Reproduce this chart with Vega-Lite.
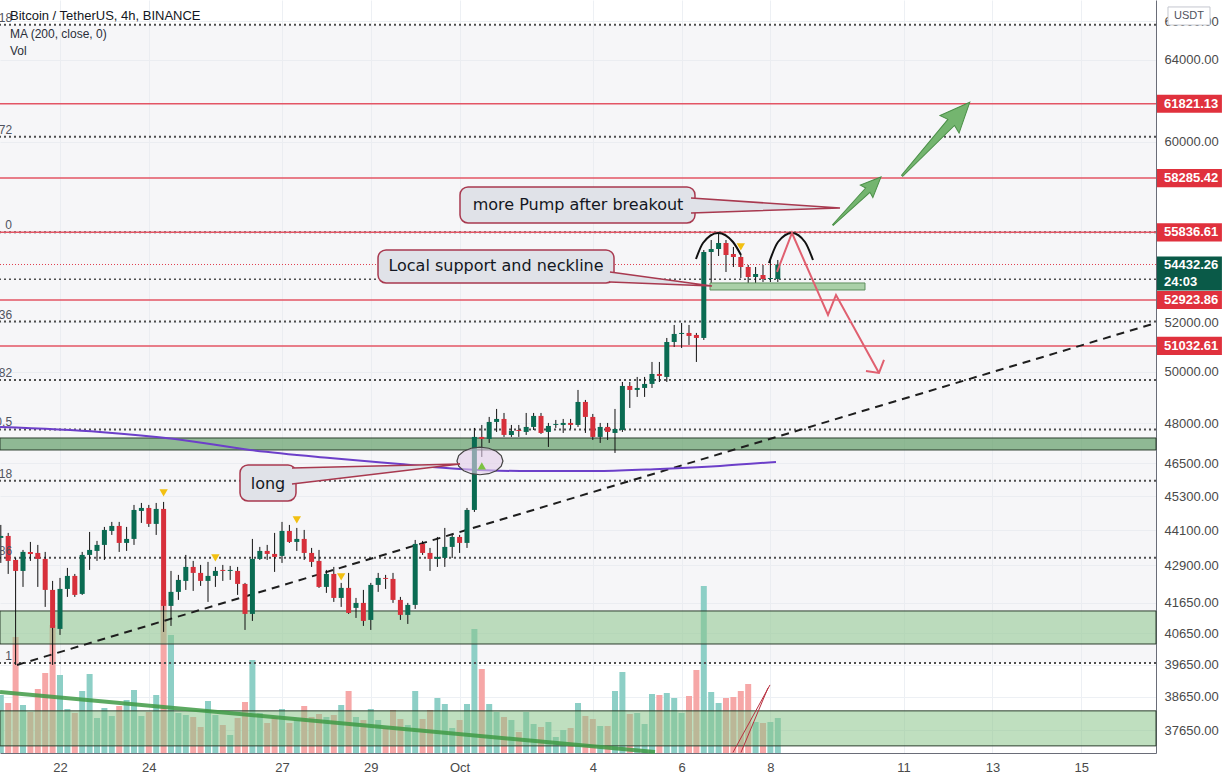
{
"$schema":"https://vega.github.io/schema/vega-lite/v6.json",
"width":1156,"height":753,
"autosize":{"type":"none"},
"padding":{"left":0,"top":0,"right":69,"bottom":28},
"background":"white",
"config":{"view":{"stroke":null},"font":"Liberation Sans"},
"datasets":{
"candles":[
{"t":"2021-09-20T16:00Z","o":43837,"h":44290,"l":42978,"c":43906,"v":2320},
{"t":"2021-09-20T20:00Z","o":43906,"h":44011,"l":42605,"c":43046,"v":2000},
{"t":"2021-09-21T00:00Z","o":43080,"h":43148,"l":39644,"c":42706,"v":4640},
{"t":"2021-09-21T04:00Z","o":42706,"h":43422,"l":42169,"c":43354,"v":1920},
{"t":"2021-09-21T08:00Z","o":43354,"h":43698,"l":43046,"c":43285,"v":1640},
{"t":"2021-09-21T12:00Z","o":43319,"h":43595,"l":42169,"c":43114,"v":2560},
{"t":"2021-09-21T16:00Z","o":43114,"h":43354,"l":41507,"c":42069,"v":3200},
{"t":"2021-09-21T20:00Z","o":42069,"h":42370,"l":39644,"c":40822,"v":5120},
{"t":"2021-09-22T00:00Z","o":40790,"h":42470,"l":40597,"c":42102,"v":3120},
{"t":"2021-09-22T04:00Z","o":42102,"h":42808,"l":41837,"c":42538,"v":1760},
{"t":"2021-09-22T08:00Z","o":42538,"h":42605,"l":41837,"c":41903,"v":1600},
{"t":"2021-09-22T12:00Z","o":41936,"h":43354,"l":41903,"c":43251,"v":2480},
{"t":"2021-09-22T16:00Z","o":43251,"h":44045,"l":42740,"c":43422,"v":3160},
{"t":"2021-09-22T20:00Z","o":43388,"h":43733,"l":43046,"c":43595,"v":1400},
{"t":"2021-09-23T00:00Z","o":43595,"h":44220,"l":43080,"c":44115,"v":1800},
{"t":"2021-09-23T04:00Z","o":44080,"h":44396,"l":43941,"c":44255,"v":1480},
{"t":"2021-09-23T08:00Z","o":44255,"h":44396,"l":43354,"c":43664,"v":1880},
{"t":"2021-09-23T12:00Z","o":43664,"h":44220,"l":43388,"c":43802,"v":2120},
{"t":"2021-09-23T16:00Z","o":43802,"h":44997,"l":43595,"c":44819,"v":2520},
{"t":"2021-09-23T20:00Z","o":44784,"h":45068,"l":44361,"c":44890,"v":1480},
{"t":"2021-09-24T00:00Z","o":44890,"h":44997,"l":44220,"c":44326,"v":1640},
{"t":"2021-09-24T04:00Z","o":44326,"h":45068,"l":43941,"c":44855,"v":2320},
{"t":"2021-09-24T08:00Z","o":44855,"h":45104,"l":40693,"c":41540,"v":6120},
{"t":"2021-09-24T12:00Z","o":41540,"h":42706,"l":40887,"c":42003,"v":4720},
{"t":"2021-09-24T16:00Z","o":42003,"h":42572,"l":41737,"c":42403,"v":1600},
{"t":"2021-09-24T20:00Z","o":42370,"h":43251,"l":42069,"c":42842,"v":1520},
{"t":"2021-09-25T00:00Z","o":42842,"h":43046,"l":42036,"c":42639,"v":1440},
{"t":"2021-09-25T04:00Z","o":42639,"h":42910,"l":42203,"c":42370,"v":1040},
{"t":"2021-09-25T08:00Z","o":42370,"h":43012,"l":41671,"c":42538,"v":2080},
{"t":"2021-09-25T12:00Z","o":42538,"h":42842,"l":42169,"c":42706,"v":1520},
{"t":"2021-09-25T16:00Z","o":42740,"h":42910,"l":42370,"c":42706,"v":1120},
{"t":"2021-09-25T20:00Z","o":42706,"h":42876,"l":42403,"c":42740,"v":720},
{"t":"2021-09-26T00:00Z","o":42706,"h":42842,"l":41903,"c":42269,"v":1400},
{"t":"2021-09-26T04:00Z","o":42269,"h":42303,"l":40757,"c":41277,"v":2040},
{"t":"2021-09-26T08:00Z","o":41277,"h":43802,"l":41049,"c":43114,"v":3720},
{"t":"2021-09-26T12:00Z","o":43114,"h":43526,"l":43080,"c":43388,"v":1600},
{"t":"2021-09-26T16:00Z","o":43388,"h":43595,"l":43080,"c":43285,"v":1200},
{"t":"2021-09-26T20:00Z","o":43285,"h":44011,"l":42673,"c":43183,"v":1440},
{"t":"2021-09-27T00:00Z","o":43217,"h":44396,"l":42978,"c":44080,"v":1760},
{"t":"2021-09-27T04:00Z","o":44080,"h":44290,"l":43664,"c":43698,"v":1200},
{"t":"2021-09-27T08:00Z","o":43698,"h":44185,"l":43388,"c":43802,"v":1320},
{"t":"2021-09-27T12:00Z","o":43802,"h":44115,"l":43080,"c":43319,"v":1880},
{"t":"2021-09-27T16:00Z","o":43319,"h":43491,"l":42842,"c":43012,"v":1440},
{"t":"2021-09-27T20:00Z","o":43046,"h":43422,"l":42136,"c":42169,"v":1560},
{"t":"2021-09-28T00:00Z","o":42169,"h":42740,"l":41970,"c":42605,"v":1440},
{"t":"2021-09-28T04:00Z","o":42605,"h":42842,"l":41671,"c":41803,"v":1520},
{"t":"2021-09-28T08:00Z","o":41803,"h":42303,"l":41507,"c":42136,"v":1920},
{"t":"2021-09-28T12:00Z","o":42136,"h":42639,"l":41277,"c":41310,"v":2480},
{"t":"2021-09-28T16:00Z","o":41474,"h":41803,"l":41146,"c":41638,"v":1440},
{"t":"2021-09-28T20:00Z","o":41638,"h":42069,"l":40887,"c":41049,"v":1320},
{"t":"2021-09-29T00:00Z","o":41081,"h":42303,"l":40757,"c":42236,"v":1760},
{"t":"2021-09-29T04:00Z","o":42236,"h":42639,"l":42003,"c":42470,"v":1320},
{"t":"2021-09-29T08:00Z","o":42470,"h":42572,"l":42102,"c":42437,"v":1000},
{"t":"2021-09-29T12:00Z","o":42437,"h":42639,"l":41638,"c":41737,"v":1720},
{"t":"2021-09-29T16:00Z","o":41737,"h":41837,"l":41081,"c":41245,"v":1360},
{"t":"2021-09-29T20:00Z","o":41245,"h":41638,"l":40951,"c":41573,"v":1120},
{"t":"2021-09-30T00:00Z","o":41573,"h":43767,"l":41441,"c":43629,"v":2480},
{"t":"2021-09-30T04:00Z","o":43629,"h":43733,"l":43251,"c":43319,"v":1360},
{"t":"2021-09-30T08:00Z","o":43319,"h":43491,"l":42706,"c":43114,"v":1720},
{"t":"2021-09-30T12:00Z","o":43114,"h":43871,"l":42842,"c":43183,"v":2200},
{"t":"2021-09-30T16:00Z","o":43148,"h":44185,"l":42842,"c":43526,"v":1960},
{"t":"2021-09-30T20:00Z","o":43526,"h":43941,"l":43148,"c":43871,"v":1000},
{"t":"2021-10-01T00:00Z","o":43871,"h":43941,"l":43319,"c":43664,"v":1320},
{"t":"2021-10-01T04:00Z","o":43664,"h":44890,"l":43491,"c":44819,"v":1960},
{"t":"2021-10-01T08:00Z","o":44819,"h":47825,"l":44748,"c":47486,"v":4960},
{"t":"2021-10-01T12:00Z","o":47486,"h":47939,"l":46739,"c":47410,"v":3360},
{"t":"2021-10-01T16:00Z","o":47410,"h":48244,"l":47261,"c":48053,"v":1960},
{"t":"2021-10-01T20:00Z","o":48053,"h":48550,"l":47674,"c":48167,"v":1640},
{"t":"2021-10-02T00:00Z","o":48167,"h":48396,"l":47486,"c":47561,"v":1440},
{"t":"2021-10-02T04:00Z","o":47561,"h":47939,"l":47486,"c":47711,"v":1320},
{"t":"2021-10-02T08:00Z","o":47749,"h":47939,"l":47486,"c":47711,"v":840},
{"t":"2021-10-02T12:00Z","o":47674,"h":48396,"l":47561,"c":47863,"v":1640},
{"t":"2021-10-02T16:00Z","o":47863,"h":48396,"l":47749,"c":48282,"v":1160},
{"t":"2021-10-02T20:00Z","o":48282,"h":48396,"l":47599,"c":47636,"v":1040},
{"t":"2021-10-03T00:00Z","o":47674,"h":48015,"l":47111,"c":47901,"v":1240},
{"t":"2021-10-03T04:00Z","o":47939,"h":48129,"l":47825,"c":47977,"v":640},
{"t":"2021-10-03T08:00Z","o":47939,"h":48167,"l":47636,"c":48015,"v":920},
{"t":"2021-10-03T12:00Z","o":48015,"h":48167,"l":47787,"c":47939,"v":1000},
{"t":"2021-10-03T16:00Z","o":47939,"h":49286,"l":47863,"c":48820,"v":2000},
{"t":"2021-10-03T20:00Z","o":48820,"h":48897,"l":47636,"c":48244,"v":1480},
{"t":"2021-10-04T00:00Z","o":48244,"h":48358,"l":47373,"c":47486,"v":1360},
{"t":"2021-10-04T04:00Z","o":47486,"h":48015,"l":47261,"c":47863,"v":1080},
{"t":"2021-10-04T08:00Z","o":47863,"h":48015,"l":47373,"c":47674,"v":1080},
{"t":"2021-10-04T12:00Z","o":47636,"h":48550,"l":46888,"c":47787,"v":2480},
{"t":"2021-10-04T16:00Z","o":47749,"h":49599,"l":47674,"c":49442,"v":3240},
{"t":"2021-10-04T20:00Z","o":49442,"h":49599,"l":48588,"c":49286,"v":1560},
{"t":"2021-10-05T00:00Z","o":49286,"h":49796,"l":49014,"c":49364,"v":1600},
{"t":"2021-10-05T04:00Z","o":49364,"h":49796,"l":49014,"c":49521,"v":1160},
{"t":"2021-10-05T08:00Z","o":49521,"h":50390,"l":49364,"c":49914,"v":2360},
{"t":"2021-10-05T12:00Z","o":49914,"h":50390,"l":49599,"c":49835,"v":2320},
{"t":"2021-10-05T16:00Z","o":49796,"h":51357,"l":49599,"c":51194,"v":2400},
{"t":"2021-10-05T20:00Z","o":51194,"h":51888,"l":50992,"c":51520,"v":2200},
{"t":"2021-10-06T00:00Z","o":51520,"h":51970,"l":50952,"c":51561,"v":1600},
{"t":"2021-10-06T04:00Z","o":51561,"h":51888,"l":51073,"c":51438,"v":2280},
{"t":"2021-10-06T08:00Z","o":51479,"h":51561,"l":50390,"c":51357,"v":3320},
{"t":"2021-10-06T12:00Z","o":51357,"h":55061,"l":51275,"c":54974,"v":6680},
{"t":"2021-10-06T16:00Z","o":54974,"h":55499,"l":53642,"c":55105,"v":2440},
{"t":"2021-10-06T20:00Z","o":55105,"h":55836,"l":54800,"c":55368,"v":2000},
{"t":"2021-10-07T00:00Z","o":55368,"h":55499,"l":54111,"c":54844,"v":2200},
{"t":"2021-10-07T04:00Z","o":54887,"h":55192,"l":54325,"c":54757,"v":2240},
{"t":"2021-10-07T08:00Z","o":54757,"h":54844,"l":53854,"c":54325,"v":2480},
{"t":"2021-10-07T12:00Z","o":54325,"h":54412,"l":53345,"c":53897,"v":2760},
{"t":"2021-10-07T16:00Z","o":53897,"h":54325,"l":53345,"c":54025,"v":1240},
{"t":"2021-10-07T20:00Z","o":53982,"h":54412,"l":53684,"c":53812,"v":1200},
{"t":"2021-10-08T00:00Z","o":53812,"h":54627,"l":53684,"c":53854,"v":1240},
{"t":"2021-10-08T04:00Z","o":53812,"h":54627,"l":53684,"c":54432.26,"v":1400}
],
"fib":[
{"lbl":"1.618","p":65805},{"lbl":"1.272","p":60224},{"lbl":"0","p":55836},{"lbl":"0.236","p":52029},{"lbl":"0.382","p":49674},{"lbl":"0.5","p":47770},{"lbl":"0.618","p":45867},{"lbl":"0.786","p":43157},{"lbl":"1","p":39705}
],
"redlv":[
{"p":61821.13,"txt":"61821.13"},{"p":58285.42,"txt":"58285.42"},{"p":55836.61,"txt":"55836.61"},{"p":52923.86,"txt":"52923.86"},{"p":51032.61,"txt":"51032.61"}
],
"callouts":[
{"t1":"2021-09-26T01:18Z","t2":"2021-09-27T07:34Z","p1":46444,"p2":45139,"txt":"long","tt":"2021-09-26T16:26Z","tp":45751},
{"t1":"2021-09-29T03:54Z","t2":"2021-10-04T11:28Z","p1":55061,"p2":53642,"txt":"Local support and neckline","tt":"2021-10-01T19:40Z","tp":54368},
{"t1":"2021-10-01T00:13Z","t2":"2021-10-06T07:14Z","p1":57877,"p2":56251,"txt":"more Pump after breakout","tt":"2021-10-03T16:00Z","tp":57059}
],
"wedges":[
{"id":"a","k":0,"t":"2021-09-27T05:24Z","p":46334},{"id":"a","k":1,"t":"2021-10-01T00:13Z","p":46481},{"id":"a","k":2,"t":"2021-09-27T05:24Z","p":45751},
{"id":"b","k":0,"t":"2021-10-04T09:18Z","p":54111},{"id":"b","k":1,"t":"2021-10-06T16:26Z","p":53514},{"id":"b","k":2,"t":"2021-10-04T09:18Z","p":53684},
{"id":"c","k":0,"t":"2021-10-06T05:05Z","p":57376},{"id":"c","k":1,"t":"2021-10-09T13:38Z","p":56924},{"id":"c","k":2,"t":"2021-10-06T05:05Z","p":56698}
],
"ma":[
{"t":"2021-09-20T15:35Z","p":47862},{"t":"2021-09-22T21:37Z","p":47674},{"t":"2021-09-24T14:10Z","p":47411},{"t":"2021-09-26T06:42Z","p":46999},{"t":"2021-09-28T01:57Z","p":46702},{"t":"2021-09-29T15:47Z","p":46481},{"t":"2021-10-01T00:13Z","p":46298},{"t":"2021-10-02T08:38Z","p":46224},{"t":"2021-10-04T03:53Z","p":46224},{"t":"2021-10-05T12:19Z","p":46298},{"t":"2021-10-06T20:45Z","p":46408},{"t":"2021-10-08T03:01Z","p":46555}
],
"arcs":[
{"id":"a","t":"2021-10-06T07:47Z","p":54670},{"id":"a","t":"2021-10-06T11:34Z","p":55368},{"id":"a","t":"2021-10-06T19:40Z","p":55808},{"id":"a","t":"2021-10-07T03:47Z","p":55411},{"id":"a","t":"2021-10-07T08:06Z","p":54844},
{"id":"b","t":"2021-10-07T23:14Z","p":54497},{"id":"b","t":"2021-10-08T04:06Z","p":55411},{"id":"b","t":"2021-10-08T11:40Z","p":55808},{"id":"b","t":"2021-10-08T18:42Z","p":55411},{"id":"b","t":"2021-10-08T23:01Z","p":54627}
],
"zigzag":[
{"id":"path","t":"2021-10-08T03:34Z","p":54111},{"id":"path","t":"2021-10-08T11:40Z","p":55808},{"id":"path","t":"2021-10-09T07:08Z","p":52300},{"id":"path","t":"2021-10-09T11:28Z","p":53135},{"id":"path","t":"2021-10-10T10:42Z","p":49954},
{"id":"head","t":"2021-10-10T03:40Z","p":50033},{"id":"head","t":"2021-10-10T10:42Z","p":49954},{"id":"head","t":"2021-10-10T13:24Z","p":50470}
],
"marks":[
{"dir":"down","t":"2021-09-24T08:00Z","p":45426},{"dir":"down","t":"2021-09-25T12:00Z","p":43148},{"dir":"down","t":"2021-09-27T08:00Z","p":44466},{"dir":"down","t":"2021-09-28T08:00Z","p":42504},{"dir":"down","t":"2021-10-07T08:00Z","p":55192},{"dir":"up","t":"2021-10-01T12:00Z","p":46408}
],
"redthin":[
{"id":"a","t":"2021-10-07T03:47Z","p":36990},{"id":"a","t":"2021-10-07T23:47Z","p":39021},
{"id":"b","t":"2021-10-07T08:06Z","p":36990},{"id":"b","t":"2021-10-07T22:42Z","p":38929}
],
"header":[
{"txt":"Bitcoin / TetherUS, 4h, BINANCE","p":66269}
],
"legend":[
{"txt":"MA (200, close, 0)","p":65331},{"txt":"Vol","p":64458}
],
"last":[
{"p":54432.26,"txt":"54432.26","cd":"24:03"}
],
"unit":[
{"p":66269,"txt":"USDT"}
],
"hlines":[
{"p":53800}
]
},
"layer":[
{
"data":{"values":[{"lo":39705,"hi":65805}]},
"mark":{"type":"rect","fill":"#e8e8ee","opacity":0.4},
"encoding":{
"y":{"field":"hi","type":"quantitative","scale":{"type":"log","domain":[36973,67113],"nice":false,"padding":0},"axis":null},
"y2":{"field":"lo"}
}
},
{
"data":{"name":"candles"},
"mark":{"type":"bar","width":6},
"encoding":{
"x":{"field":"t","type":"temporal",
"scale":{"type":"utc","padding":0,"domain":[{"year":2021,"month":9,"date":20,"hours":15,"minutes":34,"utc":true},{"year":2021,"month":10,"date":16,"hours":16,"minutes":26,"utc":true}]},
"axis":{"title":null,"orient":"bottom","values":[{"year":2021,"month":9,"date":22,"utc":true},{"year":2021,"month":9,"date":24,"utc":true},{"year":2021,"month":9,"date":27,"utc":true},{"year":2021,"month":9,"date":29,"utc":true},{"year":2021,"month":10,"date":1,"utc":true},{"year":2021,"month":10,"date":4,"utc":true},{"year":2021,"month":10,"date":6,"utc":true},{"year":2021,"month":10,"date":8,"utc":true},{"year":2021,"month":10,"date":11,"utc":true},{"year":2021,"month":10,"date":13,"utc":true},{"year":2021,"month":10,"date":15,"utc":true}],
"labelExpr":"utcdate(datum.value) == 1 ? 'Oct' : '' + utcdate(datum.value)",
"grid":true,"gridColor":"#edf0f4","ticks":false,"domainColor":"#6a6d78","labelColor":"#4a4a4a","labelFont":"Liberation Sans","labelFontSize":13,"labelPadding":8,"labelOverlap":false,"labelFlush":false}},
"y":{"field":"v","type":"quantitative","scale":{"domain":[0,30120],"nice":false,"padding":0},"axis":null},
"color":{"condition":{"test":"datum.c >= datum.o","value":"#8dcfc6"},"value":"#f6a7a7"}
}
},
{
"layer":[
{
"data":{"values":[{"lo":46998,"hi":47446}]},
"mark":{"type":"rect","fill":"#4b9152","fillOpacity":0.6,"stroke":"#2c3e2e","strokeWidth":1},
"encoding":{
"y":{"field":"hi","type":"quantitative","scale":{"type":"log","domain":[36973,67113],"nice":false,"padding":0},
"axis":{"title":null,"orient":"right","values":[37650,38650,39650,40650,41650,42900,44100,45300,46500,48000,50000,52000,60000,64000,66000],"format":".2f","grid":true,"gridColor":"#edf0f4","ticks":false,"domainColor":"#6a6d78","labelColor":"#4a4a4a","labelFont":"Liberation Sans","labelFontSize":13,"labelPadding":8,"labelOverlap":false,"labelBound":false,"labelFlush":false}},
"y2":{"field":"lo"}
}
},
{
"data":{"values":[{"lo":40306,"hi":41374},{"lo":37182,"hi":38227}]},
"mark":{"type":"rect","fill":"#8bc48b","fillOpacity":0.55,"stroke":"#2c3e2e","strokeWidth":1},
"encoding":{"y":{"field":"hi","type":"quantitative"},"y2":{"field":"lo"}}
},
{
"data":{"name":"fib"},
"mark":{"type":"rule","stroke":"#4d4d4d","strokeWidth":2,"strokeDash":[2,3]},
"encoding":{"y":{"field":"p","type":"quantitative"}}
},
{
"data":{"name":"hlines"},
"mark":{"type":"rule","stroke":"#4d4d4d","strokeWidth":1.5,"strokeDash":[2,3]},
"encoding":{"y":{"field":"p","type":"quantitative"}}
},
{
"data":{"name":"redlv"},
"mark":{"type":"rule","stroke":"#e35565","strokeWidth":1.5},
"encoding":{"y":{"field":"p","type":"quantitative"}}
},
{
"data":{"name":"last"},
"mark":{"type":"rule","stroke":"#e04050","strokeWidth":1,"strokeDash":[1,2]},
"encoding":{"y":{"field":"p","type":"quantitative"}}
},
{
"data":{"values":[{"t":"2021-09-21T00:45Z","p":39642},{"t":"2021-10-16T16:26Z","p":51970}]},
"mark":{"type":"line","stroke":"#1e1e1e","strokeWidth":2,"strokeDash":[8,6]},
"encoding":{"x":{"field":"t","type":"temporal"},"y":{"field":"p","type":"quantitative"}}
},
{
"data":{"name":"ma"},
"mark":{"type":"line","stroke":"#6c3fc9","strokeWidth":2,"interpolate":"monotone"},
"encoding":{"x":{"field":"t","type":"temporal"},"y":{"field":"p","type":"quantitative"}}
},
{
"data":{"name":"candles"},
"mark":{"type":"rule","stroke":"#111111","strokeWidth":1},
"encoding":{"x":{"field":"t","type":"temporal"},"y":{"field":"l","type":"quantitative"},"y2":{"field":"h"}}
},
{
"data":{"name":"candles"},
"mark":{"type":"bar","width":5},
"encoding":{"x":{"field":"t","type":"temporal"},"y":{"field":"o","type":"quantitative"},"y2":{"field":"c"},
"color":{"condition":{"test":"datum.c >= datum.o","value":"#0a6b52"},"value":"#d7303b"}}
},
{
"data":{"values":[{"t":"2021-10-01T11:00Z","p":46591}]},
"mark":{"type":"point","shape":"M1,0L0.924,0.23L0.707,0.424L0.383,0.554L0,0.6L-0.383,0.554L-0.707,0.424L-0.924,0.23L-1,0L-0.924,-0.23L-0.707,-0.424L-0.383,-0.554L0,-0.6L0.383,-0.554L0.707,-0.424L0.924,-0.23Z","size":2116,"filled":true,"fill":"#e3cdea","fillOpacity":0.6,"stroke":"#444444","strokeWidth":1.2,"opacity":1},
"encoding":{"x":{"field":"t","type":"temporal"},"y":{"field":"p","type":"quantitative"}}
},
{
"data":{"name":"marks"},
"transform":[{"filter":"datum.dir == 'down'"}],
"mark":{"type":"point","shape":"triangle-down","filled":true,"fill":"#f2c012","size":70,"opacity":1},
"encoding":{"x":{"field":"t","type":"temporal"},"y":{"field":"p","type":"quantitative"}}
},
{
"data":{"name":"marks"},
"transform":[{"filter":"datum.dir == 'up'"}],
"mark":{"type":"point","shape":"triangle-up","filled":true,"fill":"#7cc242","size":70,"opacity":1},
"encoding":{"x":{"field":"t","type":"temporal"},"y":{"field":"p","type":"quantitative"}}
},
{
"data":{"values":[{"t1":"2021-10-06T15:21Z","t2":"2021-10-10T03:08Z","p1":53642,"p2":53345}]},
"mark":{"type":"rect","fill":"#aad0a8","stroke":"#5f8f5f","strokeWidth":1},
"encoding":{"x":{"field":"t1","type":"temporal"},"x2":{"field":"t2"},"y":{"field":"p1","type":"quantitative"},"y2":{"field":"p2"}}
},
{
"data":{"name":"callouts"},
"mark":{"type":"rect","fill":"#e0e2e8","stroke":"#a8394f","strokeWidth":1.5,"cornerRadius":8},
"encoding":{"x":{"field":"t1","type":"temporal"},"x2":{"field":"t2"},"y":{"field":"p1","type":"quantitative"},"y2":{"field":"p2"}}
},
{
"data":{"name":"wedges"},
"mark":{"type":"line","stroke":"#a8394f","strokeWidth":1.5,"fill":"#e0e2e8"},
"encoding":{"x":{"field":"t","type":"temporal"},"y":{"field":"p","type":"quantitative"},"detail":{"field":"id"},"order":{"field":"k"}}
},
{
"data":{"name":"callouts"},
"mark":{"type":"text","font":"DejaVu Sans","fontSize":16,"color":"#131722","align":"center","baseline":"middle"},
"encoding":{"x":{"field":"tt","type":"temporal"},"y":{"field":"tp","type":"quantitative"},"text":{"field":"txt"}}
},
{
"data":{"name":"arcs"},
"mark":{"type":"line","stroke":"#111111","strokeWidth":2,"interpolate":"monotone"},
"encoding":{"x":{"field":"t","type":"temporal"},"y":{"field":"p","type":"quantitative"},"detail":{"field":"id"}}
},
{
"data":{"name":"zigzag"},
"mark":{"type":"line","stroke":"#e06070","strokeWidth":2},
"encoding":{"x":{"field":"t","type":"temporal"},"y":{"field":"p","type":"quantitative"},"detail":{"field":"id"}}
},
{
"data":{"values":[{"t":"2021-10-09T22:48Z","p":57240}]},
"mark":{"type":"point","shape":"M0,-1L0.26,-0.4L0.09,-0.45L0.015,1L-0.015,1L-0.09,-0.45L-0.26,-0.4Z","size":4624,"angle":45,"filled":true,"fill":"#74b56f","stroke":"#4a8f47","strokeWidth":1,"opacity":1},
"encoding":{"x":{"field":"t","type":"temporal"},"y":{"field":"p","type":"quantitative"}}
},
{
"data":{"values":[{"t":"2021-10-11T17:30Z","p":60120}]},
"mark":{"type":"point","shape":"M0,-1L0.26,-0.4L0.09,-0.45L0.015,1L-0.015,1L-0.09,-0.45L-0.26,-0.4Z","size":10000,"angle":42.6,"filled":true,"fill":"#74b56f","stroke":"#4a8f47","strokeWidth":1,"opacity":1},
"encoding":{"x":{"field":"t","type":"temporal"},"y":{"field":"p","type":"quantitative"}}
},
{
"data":{"values":[{"t":"2021-09-20T15:35Z","p":38803},{"t":"2021-10-05T09:37Z","p":37003}]},
"mark":{"type":"line","stroke":"#3f9a45","strokeWidth":4,"opacity":0.85},
"encoding":{"x":{"field":"t","type":"temporal"},"y":{"field":"p","type":"quantitative"}}
},
{
"data":{"name":"redthin"},
"mark":{"type":"line","stroke":"#b8303f","strokeWidth":1},
"encoding":{"x":{"field":"t","type":"temporal"},"y":{"field":"p","type":"quantitative"},"detail":{"field":"id"}}
},
{
"data":{"name":"fib"},
"mark":{"type":"text","align":"right","baseline":"middle","dy":-7,"font":"Liberation Sans","fontSize":12,"color":"#50535e"},
"encoding":{"x":{"datum":{"year":2021,"month":9,"date":20,"hours":22,"minutes":5,"utc":true},"type":"temporal"},"y":{"field":"p","type":"quantitative"},"text":{"field":"lbl"}}
},
{
"data":{"name":"header"},
"mark":{"type":"text","align":"left","baseline":"middle","font":"Liberation Sans","fontSize":13,"color":"#131722"},
"encoding":{"x":{"datum":{"year":2021,"month":9,"date":20,"hours":20,"minutes":58,"utc":true},"type":"temporal"},"y":{"field":"p","type":"quantitative"},"text":{"field":"txt"}}
},
{
"data":{"name":"legend"},
"mark":{"type":"text","align":"left","baseline":"middle","font":"Liberation Sans","fontSize":12,"color":"#2a2e39"},
"encoding":{"x":{"datum":{"year":2021,"month":9,"date":20,"hours":20,"minutes":58,"utc":true},"type":"temporal"},"y":{"field":"p","type":"quantitative"},"text":{"field":"txt"}}
},
{
"data":{"name":"redlv"},
"mark":{"type":"point","shape":"M-1,-0.28L1,-0.28L1,0.28L-1,0.28Z","size":4225,"filled":true,"fill":"#e0313d","opacity":1},
"encoding":{"x":{"datum":{"year":2021,"month":10,"date":17,"hours":10,"minutes":30,"utc":true},"type":"temporal"},"y":{"field":"p","type":"quantitative"}}
},
{
"data":{"name":"redlv"},
"mark":{"type":"text","align":"left","baseline":"middle","font":"Liberation Sans","fontSize":13,"fontWeight":"bold","color":"#ffffff"},
"encoding":{"x":{"datum":{"year":2021,"month":10,"date":16,"hours":20,"minutes":45,"utc":true},"type":"temporal"},"y":{"field":"p","type":"quantitative"},"text":{"field":"txt"}}
},
{
"data":{"name":"last"},
"mark":{"type":"point","shape":"M-1,-0.25L1,-0.25L1,0.8L-1,0.8Z","size":4225,"filled":true,"fill":"#0a5a48","opacity":1},
"encoding":{"x":{"datum":{"year":2021,"month":10,"date":17,"hours":10,"minutes":30,"utc":true},"type":"temporal"},"y":{"field":"p","type":"quantitative"}}
},
{
"data":{"name":"last"},
"mark":{"type":"text","align":"left","baseline":"middle","font":"Liberation Sans","fontSize":13,"fontWeight":"bold","color":"#ffffff"},
"encoding":{"x":{"datum":{"year":2021,"month":10,"date":16,"hours":20,"minutes":45,"utc":true},"type":"temporal"},"y":{"field":"p","type":"quantitative"},"text":{"field":"txt"}}
},
{
"data":{"name":"last"},
"mark":{"type":"text","align":"left","baseline":"middle","dy":17,"font":"Liberation Sans","fontSize":13,"fontWeight":"bold","color":"#ffffff"},
"encoding":{"x":{"datum":{"year":2021,"month":10,"date":16,"hours":20,"minutes":45,"utc":true},"type":"temporal"},"y":{"field":"p","type":"quantitative"},"text":{"field":"cd"}}
},
{
"data":{"name":"unit"},
"mark":{"type":"point","shape":"M-1,-0.43L1,-0.43L1,0.43L-1,0.43Z","size":1764,"filled":true,"fill":"#ffffff","stroke":"#c4c7cf","strokeWidth":1,"opacity":1},
"encoding":{"x":{"datum":{"year":2021,"month":10,"date":17,"hours":10,"minutes":16,"utc":true},"type":"temporal"},"y":{"field":"p","type":"quantitative"}}
},
{
"data":{"name":"unit"},
"mark":{"type":"text","align":"center","baseline":"middle","font":"Liberation Sans","fontSize":11,"color":"#50535e"},
"encoding":{"x":{"datum":{"year":2021,"month":10,"date":17,"hours":10,"minutes":16,"utc":true},"type":"temporal"},"y":{"field":"p","type":"quantitative"},"text":{"field":"txt"}}
}
]
}
],
"resolve":{"scale":{"y":"independent"}}
}
